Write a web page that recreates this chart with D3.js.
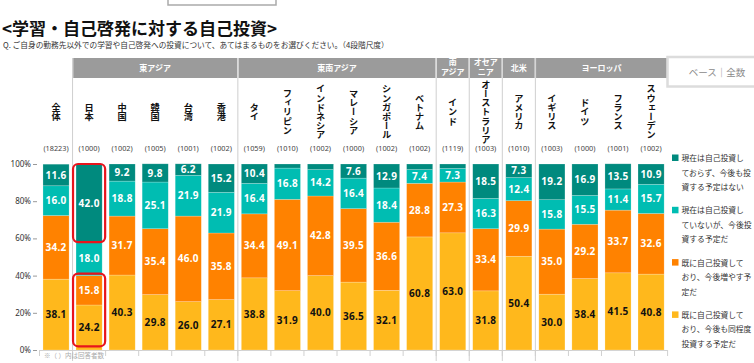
<!DOCTYPE html>
<html>
<head>
<meta charset="utf-8">
<script src="https://cdn.jsdelivr.net/npm/d3@7"></script>
<style>
  body { margin: 0; background: #fff; }
  svg { display: block; font-family: "Noto Sans CJK JP", "Noto Sans", sans-serif; }
</style>
</head>
<body>
<svg id="chart" width="754" height="363"></svg>
<script>
// countries, sample sizes and answer shares (%)
var countries = ["全体","日本","中国","韓国","台湾","香港","タイ","フィリピン","インドネシア","マレーシア",
  "シンガポール","ベトナム","インド","オーストラリア","アメリカ","イギリス","ドイツ","フランス","スウェーデン"];
var counts = [18223,1000,1002,1005,1001,1002,1059,1010,1002,1000,1002,1002,1119,1003,1010,1003,1000,1001,1002];
var regions = ["","東アジア","東アジア","東アジア","東アジア","東アジア","東南アジア","東南アジア","東南アジア",
  "東南アジア","東南アジア","東南アジア","南\nアジア","オセア\nニア","北米","ヨーロッパ","ヨーロッパ","ヨーロッパ","ヨーロッパ"];

var same     = [38.1,24.2,40.3,29.8,26.0,27.1,38.8,31.9,40.0,36.5,32.1,60.8,63.0,31.8,50.4,30.0,38.4,41.5,40.8];
var increase = [34.2,15.8,31.7,35.4,46.0,35.8,34.4,49.1,42.8,39.5,36.6,28.8,27.3,33.4,29.9,35.0,29.2,33.7,32.6];
var plan     = [16.0,18.0,18.8,25.1,21.9,21.9,16.4,16.8,14.2,16.4,18.4,7.4,7.3,16.3,12.4,15.8,15.5,11.4,15.7];
var none     = [11.6,42.0,9.2,9.8,6.2,15.2,10.4,2.2,3.0,7.6,12.9,3.0,2.4,18.5,7.3,19.2,16.9,13.5,10.9];

var seriesKeys = ["same","increase","plan","none"];
var seriesColors = {same: "#ffb81c", increase: "#ff8200", plan: "#00bdb2", none: "#008a7e"};
var legendLines = {
  none: ["現在は自己投資し","ておらず、今後も投","資する予定はない"],
  plan: ["現在は自己投資し","ていないが、今後投","資する予定だ"],
  increase: ["既に自己投資して","おり、今後増やす予","定だ"],
  same: ["既に自己投資して","おり、今後も同程度","投資する予定だ"]
};
var yTicks = [0,20,40,60,80,100];

var rows = countries.map(function(c, i) {
  return {country: c, same: same[i], increase: increase[i], plan: plan[i], none: none[i]};
});

var svg = d3.select("#chart");

var x = d3.scaleBand().domain(countries).range([39.5, 667.6]).paddingInner(0.21).paddingOuter(0.105);
var y = d3.scaleLinear().domain([0, 100]).range([350, 164]);
var step = x.step();
var x0 = x.range()[0];

// title
svg.append("text").attr("x", 2).attr("y", 35)
  .attr("font-size", 17).attr("font-weight", "bold").attr("fill", "#111")
  .text("<学習・自己啓発に対する自己投資>");
svg.append("text").attr("x", 3).attr("y", 47.5)
  .attr("font-size", 7.7).attr("fill", "#333")
  .text("Q. ご自身の勤務先以外での学習や自己啓発への投資について、あてはまるものをお選びください。（4段階尺度）");

// cropped box at top
svg.append("rect").attr("x", 168).attr("y", -6).attr("width", 108).attr("height", 11)
  .attr("fill", "#fff").attr("stroke", "#aaa").attr("stroke-width", 1.5);

// region header
var groups = [];
regions.forEach(function(r, i) {
  if (r === "") return;
  if (groups.length && groups[groups.length - 1].name === r) groups[groups.length - 1].end = i;
  else groups.push({name: r, start: i, end: i});
});
var headerTop = 58, headerBottom = 78;
var hdr = svg.append("g");
hdr.selectAll("rect").data(groups).enter().append("rect")
  .attr("x", function(d) { return x0 + d.start * step + 0.7; })
  .attr("width", function(d) { return (d.end - d.start + 1) * step - 1.4; })
  .attr("y", headerTop).attr("height", headerBottom - headerTop)
  .attr("fill", "#9b9b9b");
hdr.selectAll("text").data(groups).enter().append("text")
  .attr("x", function(d) { return x0 + (d.start + d.end + 1) / 2 * step; })
  .attr("text-anchor", "middle").attr("fill", "#fff").attr("font-weight", "bold").attr("font-size", 8)
  .each(function(d) {
    var lines = d.name.split("\n");
    var t = d3.select(this);
    lines.forEach(function(l, k) {
      t.append("tspan").attr("x", x0 + (d.start + d.end + 1) / 2 * step)
        .attr("y", lines.length === 1 ? 71 : 64.5 + k * 10.5).text(l);
    });
  });

// group separator lines
var seps = groups.map(function(g) { return g.start; });
svg.append("g").selectAll("line").data(seps).enter().append("line")
  .attr("x1", function(k) { return x0 + k * step; }).attr("x2", function(k) { return x0 + k * step; })
  .attr("y1", headerTop).attr("y2", 361)
  .attr("stroke", "#cfcfcf").attr("stroke-width", 1);

// column labels (vertical) and counts
svg.append("g").selectAll("text").data(countries).enter().append("text")
  .attr("x", function(d) { return x(d) + x.bandwidth() / 2; })
  .attr("y", 112)
  .attr("text-anchor", "middle")
  .style("writing-mode", "vertical-rl")
  .attr("font-size", 9.2).attr("font-weight", "bold").attr("fill", "#111")
  .text(function(d) { return d; });
svg.append("g").selectAll("text").data(countries).enter().append("text")
  .attr("x", function(d) { return x(d) + x.bandwidth() / 2; })
  .attr("y", 151)
  .attr("text-anchor", "middle").attr("font-family", "Noto Sans").attr("font-size", 7.3).attr("fill", "#444")
  .text(function(d, i) { return "(" + counts[i] + ")"; });

// y axis
var yAxis = svg.append("g").attr("transform", "translate(37,0)")
  .call(d3.axisLeft(y).tickValues(yTicks).tickSize(4).tickPadding(2).tickFormat(function(d) { return d + "%"; }));
yAxis.select(".domain").remove();
yAxis.selectAll(".tick line").attr("stroke", "#999");
yAxis.selectAll(".tick text").attr("font-family", "Noto Sans").attr("font-size", 8).attr("fill", "#333");

// bottom axis line and ticks between columns
svg.append("line").attr("x1", x0).attr("x2", x0 + countries.length * step)
  .attr("y1", 350.5).attr("y2", 350.5).attr("stroke", "#d0d0d0");
svg.append("g").selectAll("line").data(d3.range(countries.length + 1)).enter().append("line")
  .attr("x1", function(k) { return x0 + k * step; }).attr("x2", function(k) { return x0 + k * step; })
  .attr("y1", 350).attr("y2", 356).attr("stroke", "#d0d0d0");

// stacked bars
var stacked = d3.stack().keys(seriesKeys)(rows);
var layers = svg.append("g").selectAll("g").data(stacked).enter().append("g")
  .attr("fill", function(s) { return seriesColors[s.key]; });
layers.selectAll("rect").data(function(s) { return s; }).enter().append("rect")
  .attr("x", function(d) { return x(d.data.country); })
  .attr("width", x.bandwidth())
  .attr("y", function(d) { return y(d[1]); })
  .attr("height", function(d) { return y(d[0]) - y(d[1]); })
  .attr("stroke", "rgba(255,255,255,0.35)").attr("stroke-width", 0.6);

// value labels
stacked.forEach(function(s) {
  svg.append("g").selectAll("text").data(s.filter(function(d) { return d[1] - d[0] >= 5; })).enter().append("text")
    .attr("x", function(d) { return x(d.data.country) + x.bandwidth() / 2; })
    .attr("y", function(d) { return y((d[0] + d[1]) / 2) + 3.6; })
    .attr("text-anchor", "middle")
    .attr("font-family", "Noto Sans").attr("font-weight", "bold").attr("font-size", 10)
    .attr("letter-spacing", 0.3)
    .attr("fill", s.key === "same" ? "#111" : "#fff")
    .text(function(d) { return d.data[s.key].toFixed(1); });
});

// highlight boxes on Japan
var jp = "日本";
var highlights = [[58, 100], [2, 40]];
svg.append("g").selectAll("rect").data(highlights).enter().append("rect")
  .attr("x", x(jp) - 3).attr("width", x.bandwidth() + 6)
  .attr("y", function(d) { return y(d[1]) - (d[1] === 100 ? 0 : 2); })
  .attr("height", function(d) { return y(d[0]) - y(d[1]) + (d[1] === 100 ? 0 : 2); })
  .attr("rx", 5).attr("fill", "none").attr("stroke", "#e8141c").attr("stroke-width", 2.2);

// footnote
svg.append("text").attr("x", 44).attr("y", 357.5)
  .attr("font-size", 6.5).attr("fill", "#aaa").text("※（ ）内は回答者数");

// base box
svg.append("rect").attr("x", 667.5).attr("y", 57).attr("width", 95).attr("height", 29.5)
  .attr("fill", "#fff").attr("stroke", "#dcdcdc").attr("stroke-width", 2.5);
svg.append("text").attr("x", 717).attr("y", 76).attr("text-anchor", "middle")
  .attr("font-size", 9.5).attr("fill", "#8a8a8a").text("ベース｜全数");

// legend
var legendOrder = ["none","plan","increase","same"];
var leg = svg.append("g").selectAll("g").data(legendOrder).enter().append("g")
  .attr("transform", function(d, i) { return "translate(672," + (158 + i * 52.3) + ")"; });
leg.append("rect").attr("x", 0).attr("y", -3.5).attr("width", 6.5).attr("height", 6.5)
  .attr("fill", function(d) { return seriesColors[d]; });
leg.append("text").attr("font-size", 7.8).attr("fill", "#333")
  .each(function(d) {
    var t = d3.select(this);
    legendLines[d].forEach(function(l, k) {
      t.append("tspan").attr("x", 9.5).attr("y", 3 + k * 14.5).text(l);
    });
  });
</script>
</body>
</html>
